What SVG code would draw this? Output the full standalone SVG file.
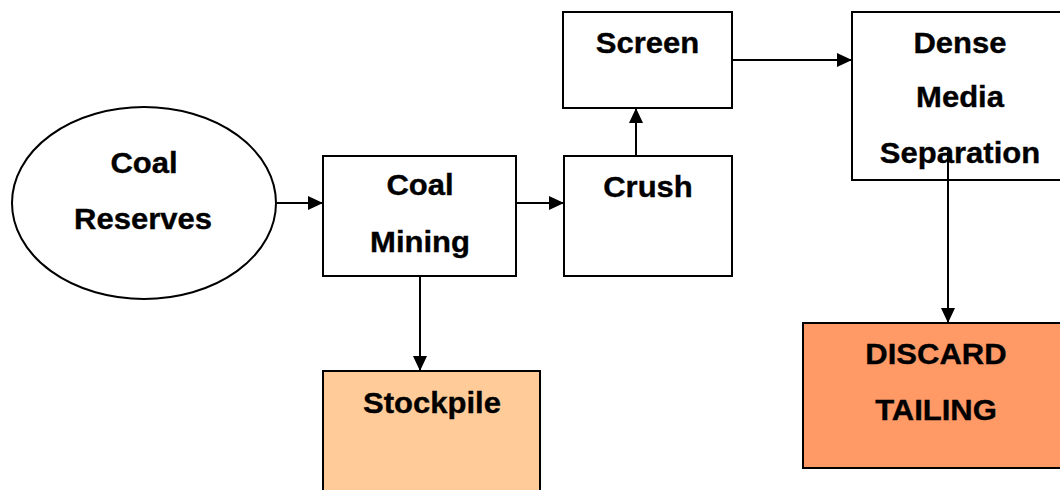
<svg xmlns="http://www.w3.org/2000/svg" width="1060" height="490" viewBox="0 0 1060 490">
  <style>
    .shape { fill: #ffffff; stroke: #000000; stroke-width: 2; }
    .stock { fill: #ffcc99; }
    .discard { fill: #ff9966; }
    .label { font-family: "Liberation Sans", Arial, sans-serif; font-weight: bold; font-size: 29px; fill: #000000; stroke: #000000; stroke-width: 0.35; text-anchor: middle; }
    .link { fill: none; stroke: #000000; stroke-width: 2; }
  </style>
  <defs>
    <marker id="arrow" markerUnits="userSpaceOnUse" markerWidth="16" markerHeight="14" refX="15" refY="7" orient="auto">
      <path d="M0,0 L15,7 L0,14 Z" fill="#000000"/>
    </marker>
  </defs>
  <rect width="1060" height="490" fill="#ffffff"/>

  <!-- labels are set in a slightly widened bold face: each line is centred at its x via translate, then scaled horizontally -->
  <g id="coal-reserves">
    <ellipse class="shape" cx="144" cy="203" rx="132" ry="96"/>
    <text class="label" transform="translate(144,173) scale(1.07,1)">Coal</text>
    <text class="label" transform="translate(143,229) scale(1.07,1)">Reserves</text>
  </g>

  <g id="coal-mining">
    <rect class="shape" x="323" y="156" width="193" height="120"/>
    <text class="label" transform="translate(420,195) scale(1.07,1)">Coal</text>
    <text class="label" transform="translate(420,252) scale(1.07,1)">Mining</text>
  </g>

  <g id="crush">
    <rect class="shape" x="564" y="156" width="168" height="120"/>
    <text class="label" transform="translate(648,197) scale(1.07,1)">Crush</text>
  </g>

  <g id="screen">
    <rect class="shape" x="563" y="12" width="169" height="96"/>
    <text class="label" transform="translate(647.5,53) scale(1.07,1)">Screen</text>
  </g>

  <g id="dense-media-separation">
    <rect class="shape" x="852" y="12" width="220" height="168"/>
    <text class="label" transform="translate(960,53) scale(1.07,1)">Dense</text>
    <text class="label" transform="translate(960,107) scale(1.07,1)">Media</text>
    <text class="label" transform="translate(960,163) scale(1.07,1)">Separation</text>
  </g>

  <g id="stockpile">
    <rect class="shape stock" x="323" y="371" width="217" height="140"/>
    <text class="label" transform="translate(432,413) scale(1.07,1)">Stockpile</text>
  </g>

  <g id="discard-tailing">
    <rect class="shape discard" x="803" y="323" width="270" height="145"/>
    <text class="label" transform="translate(936,364) scale(1.07,1)">DISCARD</text>
    <text class="label" transform="translate(936,420) scale(1.07,1)">TAILING</text>
  </g>

  <g id="connectors">
    <line class="link" x1="277" y1="203" x2="323" y2="203" marker-end="url(#arrow)"/>
    <line class="link" x1="516" y1="203" x2="564" y2="203" marker-end="url(#arrow)"/>
    <line class="link" x1="636" y1="156" x2="636" y2="108" marker-end="url(#arrow)"/>
    <line class="link" x1="732" y1="60" x2="852" y2="60" marker-end="url(#arrow)"/>
    <line class="link" x1="948" y1="151" x2="948" y2="323" marker-end="url(#arrow)"/>
    <line class="link" x1="420" y1="276" x2="420" y2="371" marker-end="url(#arrow)"/>
  </g>
</svg>
